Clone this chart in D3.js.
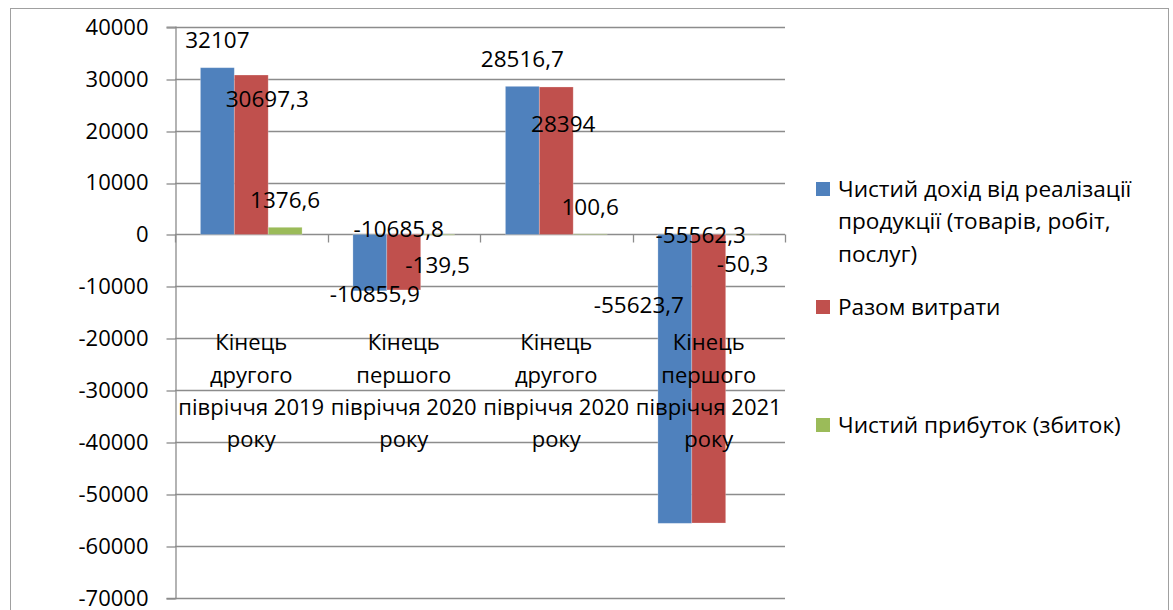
<!DOCTYPE html>
<html>
<head>
<meta charset="utf-8">
<script src="https://cdn.jsdelivr.net/npm/d3@7"></script>
<style>
  html, body { margin: 0; padding: 0; background: #fff; }
  svg { display: block; }
  text { font-family: "Open Sans", "DejaVu Sans", sans-serif; fill: #000; }
</style>
</head>
<body>
<svg id="chart" width="1173" height="610"></svg>
<script>
// Categories (reporting periods), each split into display lines
const categories = ["c1", "c2", "c3", "c4"];
const categoryLines = [
  ["Кінець", "другого", "півріччя 2019", "року"],
  ["Кінець", "першого", "півріччя 2020", "року"],
  ["Кінець", "другого", "півріччя 2020", "року"],
  ["Кінець", "першого", "півріччя 2021", "року"]
];

// Series
const seriesNames = [
  "Чистий дохід від реалізації продукції (товарів, робіт, послуг)",
  "Разом витрати",
  "Чистий прибуток (збиток)"
];
const legendLines = [
  ["Чистий дохід від реалізації", "продукції (товарів, робіт,", "послуг)"],
  ["Разом витрати"],
  ["Чистий прибуток (збиток)"]
];
const revenue = [32107, -10855.9, 28516.7, -55623.7];
const expenses = [30697.3, -10685.8, 28394, -55562.3];
const profit = [1376.6, -139.5, 100.6, -50.3];
const seriesColors = ["#4F81BD", "#C0504D", "#9BBB59"];

// Value axis ticks
const yTicks = [40000, 30000, 20000, 10000, 0, -10000, -20000, -30000, -40000, -50000, -60000, -70000];

// Hand-placed data label nudges (px) from the default outside-end spot, per series / category
const labelNudges = [
  [[0, 0], [5, -26], [0, 0], [-36, -248]],
  [[16, 51], [-5, -90], [7, 64], [-8, -318]],
  [[0, 0], [0, 0], [0, 0], [0, 0]]
];

const seriesValues = [revenue, expenses, profit];

const svg = d3.select("#chart");
const gridColor = "#8c8c8c";

// Number formatting: comma decimal separator, plain hyphen for negatives
const locale = d3.formatLocale({ decimal: ",", thousands: "", grouping: [3], currency: ["", ""], minus: "-" });
const fmt = locale.format("~f");
const fmtTick = locale.format("d");

// Outer chart frame
svg.append("rect")
  .attr("x", 10.5).attr("y", 8.5)
  .attr("width", 1158).attr("height", 640)
  .attr("fill", "#fff").attr("stroke", "#a0a0a0").attr("stroke-width", 1);

const plot = { left: 175, right: 785, top: 26.7, bottom: 598 };

const y = d3.scaleLinear().domain([-70000, 40000]).range([plot.bottom, plot.top]);
const x0 = d3.scaleBand().domain(categories).range([plot.left, plot.right]).padding(0);
const x1 = d3.scaleBand().domain(d3.range(seriesNames.length)).range([0, x0.bandwidth()])
  .paddingInner(0).paddingOuter(0.75);

// Horizontal gridlines
svg.append("g").selectAll("line").data(yTicks).join("line")
  .attr("x1", plot.left).attr("x2", plot.right)
  .attr("y1", d => Math.round(y(d)) + 0.5).attr("y2", d => Math.round(y(d)) + 0.5)
  .attr("stroke", gridColor).attr("stroke-width", 1.3);

// Value axis
const yAxis = d3.axisLeft(y).tickValues(yTicks).tickSize(9).tickPadding(18).tickFormat(fmtTick);
const yg = svg.append("g").attr("transform", `translate(${plot.left + 0.5},0)`).call(yAxis);
yg.select(".domain").attr("stroke", gridColor).attr("stroke-width", 1.3);
yg.selectAll(".tick line").attr("stroke", gridColor).attr("stroke-width", 1.3)
  .attr("transform", d => `translate(0,${Math.round(y(d)) + 0.5 - y(d)})`);
yg.selectAll(".tick text")
  .style("font-family", "'Open Sans', 'DejaVu Sans', sans-serif")
  .attr("font-size", 22).attr("fill", "#000").attr("dy", "0.34em");

// Category tick marks along the zero line
const y0 = Math.round(y(0)) + 0.5;
const boundaries = categories.map(c => x0(c)).concat([plot.right]);
svg.append("g").selectAll("line").data(boundaries).join("line")
  .attr("x1", d => Math.round(d) + 0.5).attr("x2", d => Math.round(d) + 0.5)
  .attr("y1", y0).attr("y2", y0 + 8)
  .attr("stroke", gridColor).attr("stroke-width", 1.3);

// Bars
const groups = svg.append("g").selectAll("g").data(categories).join("g")
  .attr("transform", c => `translate(${x0(c)},0)`);
groups.selectAll("rect")
  .data((c, ci) => seriesValues.map((vals, si) => ({ si, ci, v: vals[ci] })))
  .join("rect")
  .attr("x", d => x1(d.si))
  .attr("width", x1.bandwidth())
  .attr("y", d => Math.min(y(d.v), y(0)))
  .attr("height", d => Math.abs(y(d.v) - y(0)))
  .attr("fill", d => seriesColors[d.si])
  .attr("stroke", "rgba(255,255,255,0.3)").attr("stroke-width", 0.8);

// Category labels
const catLabels = svg.append("g").selectAll("text").data(categories).join("text")
  .attr("text-anchor", "middle")
  .attr("font-size", 22)
  .attr("x", c => x0(c) + x0.bandwidth() / 2)
  .attr("y", y(0) + 116);
catLabels.selectAll("tspan").data((c, i) => categoryLines[i]).join("tspan")
  .attr("x", function () { return d3.select(this.parentNode).attr("x"); })
  .attr("dy", (d, i) => i === 0 ? 0 : 32.3)
  .text(d => d);

// Data labels
const labelData = [];
seriesValues.forEach((vals, si) => vals.forEach((v, ci) => labelData.push({ si, ci, v })));
svg.append("g").selectAll("text").data(labelData).join("text")
  .attr("text-anchor", "middle")
  .attr("font-size", 22.5)
  .attr("x", d => x0(categories[d.ci]) + x1(d.si) + x1.bandwidth() / 2 + labelNudges[d.si][d.ci][0])
  .attr("y", d => (d.v >= 0 ? y(d.v) - 19.4 : y(d.v) + 37.5) + labelNudges[d.si][d.ci][1])
  .text(d => fmt(d.v));

// Legend
const legendTops = [182, 300, 418];
const legend = svg.append("g").selectAll("g").data(seriesNames).join("g")
  .attr("transform", (d, i) => `translate(816,${legendTops[i]})`);
legend.append("rect").attr("width", 14).attr("height", 14)
  .attr("fill", (d, i) => seriesColors[i]);
legend.append("text").attr("x", 22).attr("y", 15).attr("font-size", 22.6)
  .selectAll("tspan").data((d, i) => legendLines[i]).join("tspan")
  .attr("x", 22).attr("dy", (d, i) => i === 0 ? 0 : 32.3)
  .text(d => d);
</script>
</body>
</html>
